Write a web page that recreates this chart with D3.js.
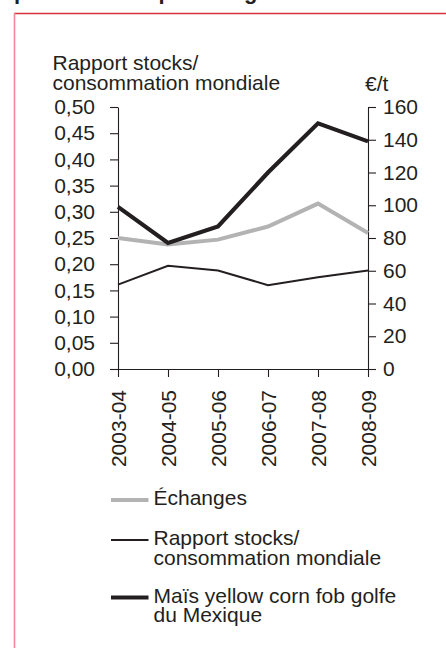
<!DOCTYPE html>
<html>
<head>
<meta charset="utf-8">
<script src="https://cdn.jsdelivr.net/npm/d3@7"></script>
<style>
  html, body { margin: 0; padding: 0; background: #fff; }
  svg { display: block; }
  text { font-family: "Liberation Sans", Arial, Helvetica, sans-serif; fill: #231f20; }
</style>
</head>
<body>
<svg id="chart" width="446" height="648"></svg>
<script>
// Campaign years (x categories)
const campaigns = ["2003-04", "2004-05", "2005-06", "2006-07", "2007-08", "2008-09"];

// World stocks-to-use ratio (left axis)
const stocksRatio = [0.161, 0.197, 0.188, 0.160, 0.175, 0.188];

// Trade volumes (right axis)
const echanges = [80, 76, 79, 87, 101, 83];

// Yellow corn FOB Gulf of Mexico price, €/t (right axis)
const maisPrice = [99, 77, 87, 120, 150, 139];

// Axis ticks
const leftTicks = [0, 0.05, 0.10, 0.15, 0.20, 0.25, 0.30, 0.35, 0.40, 0.45, 0.50];
const rightTicks = [0, 20, 40, 60, 80, 100, 120, 140, 160];

// Legend entries
const legendLabels = [
  ["Échanges"],
  ["Rapport stocks/", "consommation mondiale"],
  ["Maïs yellow corn fob golfe", "du Mexique"]
];

const ink = "#231f20";
const grey = "#b3b3b3";
const fontSize = 21;

const svg = d3.select("#chart");

// Frame of the page panel
svg.append("line").attr("x1", 14).attr("x2", 446).attr("y1", 13.5).attr("y2", 13.5)
  .attr("stroke", "#d6313f").attr("stroke-width", 1.4);
svg.append("line").attr("x1", 14.5).attr("x2", 14.5).attr("y1", 13).attr("y2", 648)
  .attr("stroke", "#f28797").attr("stroke-width", 1.6);

// Cropped heading above the panel (only descenders remain visible)
const heading = svg.append("g").attr("font-weight", "bold").attr("font-size", 22);
[["p", 14], ["p", 158.5], ["g", 244]].forEach(([ch, x]) => {
  heading.append("text").attr("x", x).attr("y", -0.6).text(ch);
});

const frLocale = d3.formatLocale({ decimal: ",", thousands: " ", grouping: [3], currency: ["", " €"] });
const fmt2 = frLocale.format(".2f");

const x = d3.scalePoint().domain(campaigns).range([118, 368]);
const yLeft = d3.scaleLinear().domain([0, 0.5]).range([369, 107]);
const yRight = d3.scaleLinear().domain([0, 160]).range([369, 107]);

function styleAxis(g) {
  g.selectAll("path, line").attr("stroke", ink).attr("stroke-width", 1.1);
  g.selectAll("text").attr("font-size", fontSize).attr("fill", ink)
    .attr("font-family", "Liberation Sans, Arial, sans-serif");
}

// Left axis
svg.append("g").attr("transform", "translate(118,0)")
  .call(d3.axisLeft(yLeft).tickValues(leftTicks).tickFormat(fmt2)
    .tickSize(8).tickSizeOuter(0).tickPadding(15))
  .call(styleAxis);

// Right axis
svg.append("g").attr("transform", "translate(368,0)")
  .call(d3.axisRight(yRight).tickValues(rightTicks).tickFormat(d3.format("d"))
    .tickSize(8).tickSizeOuter(0).tickPadding(7))
  .call(styleAxis);

// Bottom axis with vertical campaign labels
svg.append("g").attr("transform", "translate(0,369)")
  .call(d3.axisBottom(x).tickSize(8).tickSizeOuter(0))
  .call(styleAxis)
  .call(g => g.selectAll("text")
    .attr("transform", "rotate(-90)")
    .attr("x", -21).attr("y", 0).attr("dy", "0.35em")
    .attr("text-anchor", "end"));
svg.selectAll(".domain").attr("fill", "none");

// Axis titles
const leftTitle = svg.append("text").attr("font-size", fontSize);
leftTitle.append("tspan").attr("x", 52.5).attr("y", 70).text("Rapport stocks/");
leftTitle.append("tspan").attr("x", 52.5).attr("y", 89.5).text("consommation mondiale");
svg.append("text").attr("font-size", fontSize).attr("x", 365).attr("y", 90.5).text("€/t");

// Series lines
const lineRight = d3.line().x((d, i) => x(campaigns[i])).y(d => yRight(d));
const lineLeft = d3.line().x((d, i) => x(campaigns[i])).y(d => yLeft(d));

svg.append("path").datum(echanges).attr("d", lineRight)
  .attr("fill", "none").attr("stroke", grey).attr("stroke-width", 4)
  .attr("stroke-linejoin", "miter");
svg.append("path").datum(stocksRatio).attr("d", lineLeft)
  .attr("fill", "none").attr("stroke", ink).attr("stroke-width", 2);
svg.append("path").datum(maisPrice).attr("d", lineRight)
  .attr("fill", "none").attr("stroke", ink).attr("stroke-width", 4.2)
  .attr("stroke-linejoin", "miter");

// Legend
const legendStyles = [
  { color: grey, width: 4, y: 500 },
  { color: ink, width: 2, y: 540 },
  { color: ink, width: 4.2, y: 597.5 }
];
const legend = svg.append("g");
legendLabels.forEach((lines, i) => {
  const s = legendStyles[i];
  legend.append("line").attr("x1", 111).attr("x2", 148.5)
    .attr("y1", s.y).attr("y2", s.y)
    .attr("stroke", s.color).attr("stroke-width", s.width);
  const t = legend.append("text").attr("font-size", fontSize);
  lines.forEach((ln, j) => {
    t.append("tspan").attr("x", 153.5).attr("y", s.y + 5.3 + j * 19.3).text(ln);
  });
});
</script>
</body>
</html>
